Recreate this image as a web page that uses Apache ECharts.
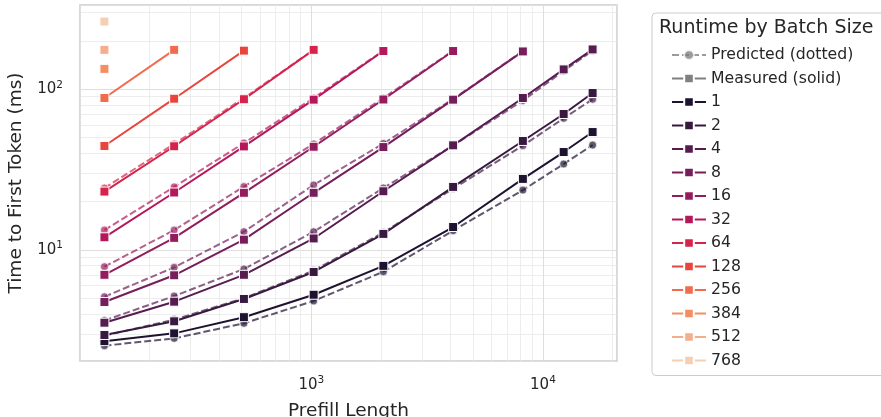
<!DOCTYPE html>
<html>
<head>
<meta charset="utf-8">
<script src="https://cdn.jsdelivr.net/npm/echarts@6/dist/echarts.min.js"></script>
<style>
html, body { margin: 0; padding: 0; background: #fff; }
#main { width: 881px; height: 417px; }
</style>
</head>
<body>
<div id="main"></div>
<script>
var FONT = 'DejaVu Sans';
var TEXT = '#262626';

var prefillLengths = [128, 256, 512, 1024, 2048, 4096, 8192, 12288, 16384];
var batchSizes = ['1', '2', '4', '8', '16', '32', '64', '128', '256', '384', '512', '768'];
var batchColors = ['#1d1330', '#38193f', '#561c50', '#751e5b', '#941c5c', '#b5185a',
	'#d5234a', '#e8453e', '#f06c4c', '#f48d62', '#f5ae8b', '#f6cfb3'];

// measured TTFT in ms, one value per prefill length starting at 128
var measured1 = [2.71, 3.03, 3.82, 5.27, 7.97, 13.9, 27.7, 40.7, 54.2];
var measured2 = [2.96, 3.60, 4.96, 7.30, 12.6, 24.7, 47.7, 70.2, 94.8];
var measured4 = [3.53, 4.77, 7.01, 11.8, 23.2, 44.8, 88.3, 133, 177];
var measured8 = [4.75, 6.96, 11.6, 22.7, 43.7, 86.2, 172];
var measured16 = [7.01, 11.9, 22.7, 43.9, 86.4, 173];
var measured32 = [12.0, 22.8, 44.1, 86.2, 173];
var measured64 = [23.1, 44.2, 86.7, 176];
var measured128 = [44.4, 87.4, 174];
var measured256 = [88.3, 176];
var measured384 = [134];
var measured512 = [176];
var measured768 = [264];

// predicted TTFT in ms (model), same layout
var predicted1 = [2.54, 2.82, 3.50, 4.82, 7.33, 13.2, 23.6, 34.3, 45.0];
var predicted2 = [2.93, 3.69, 5.01, 7.45, 12.85, 24.1, 44.6, 66.0, 86.7];
var predicted4 = [3.64, 5.17, 7.62, 13.0, 24.3, 44.7, 85.2, 130, 174];
var predicted8 = [5.12, 7.80, 13.0, 25.4, 46.0, 87.0, 173];
var predicted16 = [7.87, 13.3, 24.8, 45.7, 88.3, 174];
var predicted32 = [13.3, 24.7, 46.3, 88.3, 174];
var predicted64 = [24.3, 45.7, 88.3, 176];

var measuredAll = [measured1, measured2, measured4, measured8, measured16, measured32,
	measured64, measured128, measured256, measured384, measured512, measured768];
var predictedAll = [predicted1, predicted2, predicted4, predicted8, predicted16, predicted32, predicted64];

function pairs(values) {
	return values.map(function (v, i) {
		return [prefillLengths[i], v];
	});
}

function powerLabel(value) {
	var lg = Math.log10(value);
	var e = Math.round(lg);
	if (Math.abs(lg - e) > 1e-6) return '';
	return '{b|10}{s|' + e + '}';
}

var labelRich = {
	b: { fontSize: 15, lineHeight: 20, color: TEXT, fontFamily: FONT },
	s: { fontSize: 10.5, lineHeight: 12, verticalAlign: 'top', color: TEXT, fontFamily: FONT }
};

var series = [];

// dummy entries for the legend
series.push({
	name: 'Predicted (dotted)', type: 'line', data: [],
	symbol: 'circle', symbolSize: 9,
	color: '#7a7a7a',
	lineStyle: { width: 2, type: [7, 3], opacity: 0.75 },
	itemStyle: { borderColor: '#fff', borderWidth: 1, opacity: 0.75 }
});
series.push({
	name: 'Measured (solid)', type: 'line', data: [],
	symbol: 'rect', symbolSize: 9,
	color: '#808080',
	lineStyle: { width: 2 },
	itemStyle: { borderColor: '#fff', borderWidth: 1 }
});

predictedAll.forEach(function (vals, i) {
	series.push({
		name: 'pred ' + batchSizes[i], type: 'line',
		data: pairs(vals),
		symbol: 'circle', symbolSize: 8,
		color: batchColors[i],
		lineStyle: { width: 2, type: [7, 3], opacity: 0.7 },
		itemStyle: { borderColor: '#fff', borderWidth: 1, opacity: 0.7 },
		emphasis: { disabled: true }
	});
});

measuredAll.forEach(function (vals, i) {
	series.push({
		name: batchSizes[i], type: 'line',
		data: pairs(vals),
		symbol: 'rect', symbolSize: 9,
		color: batchColors[i],
		lineStyle: { width: 2 },
		itemStyle: { borderColor: '#fff', borderWidth: 1 },
		emphasis: { disabled: true }
	});
});

var myChart = echarts.init(document.getElementById('main'));
var option = {
	animation: false,
	textStyle: { fontFamily: FONT },
	title: {
		text: 'Runtime by Batch Size',
		left: 659, top: 19, padding: 0,
		textStyle: { fontSize: 19, fontWeight: 'normal', color: TEXT, fontFamily: FONT }
	},
	legend: {
		orient: 'vertical',
		left: 652, top: 13,
		padding: [34, 40, 7, 19],
		borderColor: '#cccccc', borderWidth: 1, borderRadius: 4,
		itemWidth: 34, itemHeight: 12, itemGap: 7.5, itemTextGap: 12,
		selectedMode: false,
		data: ['Predicted (dotted)', 'Measured (solid)'].concat(batchSizes),
		textStyle: { fontSize: 15.7, lineHeight: 16, color: TEXT, fontFamily: FONT }
	},
	grid: {
		left: 80, right: 264, top: 5, bottom: 56,
		outerBoundsMode: 'none',
		containLabel: false,
		show: true, borderColor: '#cccccc', borderWidth: 1.5
	},
	xAxis: {
		type: 'log', logBase: 10,
		min: 100.4, max: 20880,
		name: 'Prefill Length', nameLocation: 'middle', nameGap: 41,
		nameTextStyle: { fontSize: 18.5, color: TEXT, fontFamily: FONT },
		axisLine: { show: false },
		axisTick: { show: false },
		axisLabel: { formatter: powerLabel, rich: labelRich, margin: 14 },
		splitLine: { show: true, lineStyle: { color: '#dedede', width: 1 } },
		minorTick: { show: false, splitNumber: 9 },
		minorSplitLine: { show: true, lineStyle: { color: '#e8e8e8', width: 0.8 } }
	},
	yAxis: {
		type: 'log', logBase: 10,
		min: 2.039, max: 334.6,
		name: 'Time to First Token (ms)', nameLocation: 'middle', nameGap: 54,
		nameTextStyle: { fontSize: 18.5, color: TEXT, fontFamily: FONT },
		axisLine: { show: false },
		axisTick: { show: false },
		axisLabel: { formatter: powerLabel, rich: labelRich, margin: 17 },
		splitLine: { show: true, lineStyle: { color: '#dedede', width: 1 } },
		minorTick: { show: false, splitNumber: 9 },
		minorSplitLine: { show: true, lineStyle: { color: '#e8e8e8', width: 0.8 } }
	},
	series: series
};
myChart.setOption(option);
</script>
</body>
</html>
